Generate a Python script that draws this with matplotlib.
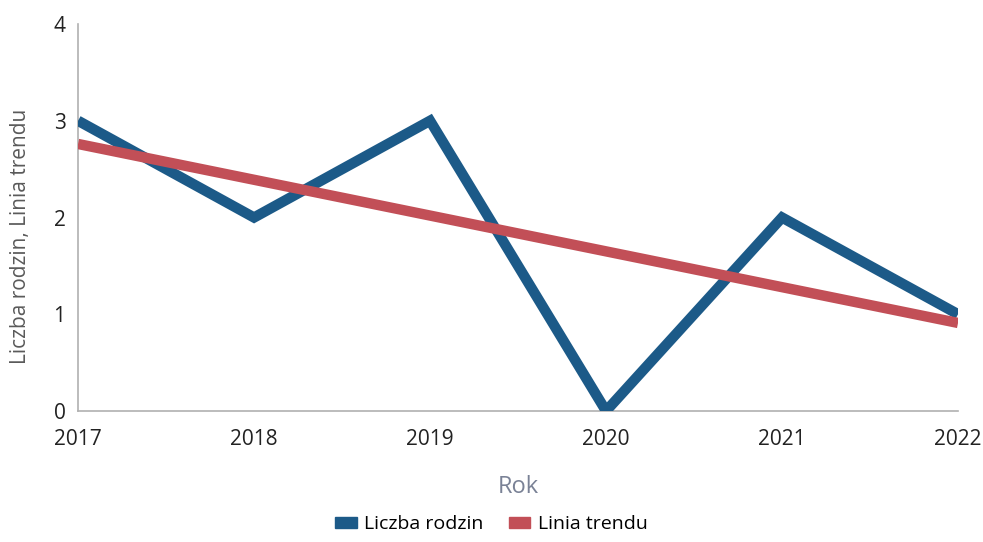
import matplotlib
matplotlib.use("Agg")
import matplotlib.pyplot as plt
from matplotlib.patches import Patch

# data
years = [2017, 2018, 2019, 2020, 2021, 2022]
families = [3, 2, 3, 0, 2, 1]
trend = [2.76, 2.39, 2.02, 1.65, 1.28, 0.91]

blue = "#1c5a88"
red = "#c24f57"

plt.rcParams['font.family'] = ['Open Sans', 'DejaVu Sans']

fig = plt.figure(figsize=(9.83, 5.42), dpi=100)
ax = fig.add_axes([0.0794, 0.2417, 0.8952, 0.714])

ax.plot(years, families, color=blue, lw=7.5, solid_capstyle='butt', solid_joinstyle='miter', zorder=3)
ax.plot(years, trend, color=red, lw=7.5, solid_capstyle='butt', zorder=4)

ax.set_xlim(2017, 2022)
ax.set_ylim(0, 4)
ax.set_xticks(years)
ax.set_yticks([0, 1, 2, 3, 4])
ax.tick_params(axis='both', length=0, labelsize=15, labelcolor='#222222')
ax.tick_params(axis='y', pad=9)
ax.tick_params(axis='x', pad=13)

for side in ['top', 'right']:
    ax.spines[side].set_visible(False)
for side in ['left', 'bottom']:
    ax.spines[side].set_color('#b0b0b0')
    ax.spines[side].set_linewidth(1.2)

ax.set_ylabel('Liczba rodzin, Linia trendu', fontsize=15, color='#5a5a5a')
ax.yaxis.set_label_coords(-0.053, 0.45)
ax.set_xlabel('Rok', fontsize=17, color='#7a8296', labelpad=18)

handles = [Patch(color=blue, label='Liczba rodzin'), Patch(color=red, label='Linia trendu')]
fig.legend(handles=handles, loc='center', bbox_to_anchor=(0.5, 0.033), ncol=2, frameon=False,
           fontsize=14, handlelength=1.1, handleheight=0.5, handletextpad=0.4, columnspacing=1.3)

fig.savefig('out.png', dpi=100)
